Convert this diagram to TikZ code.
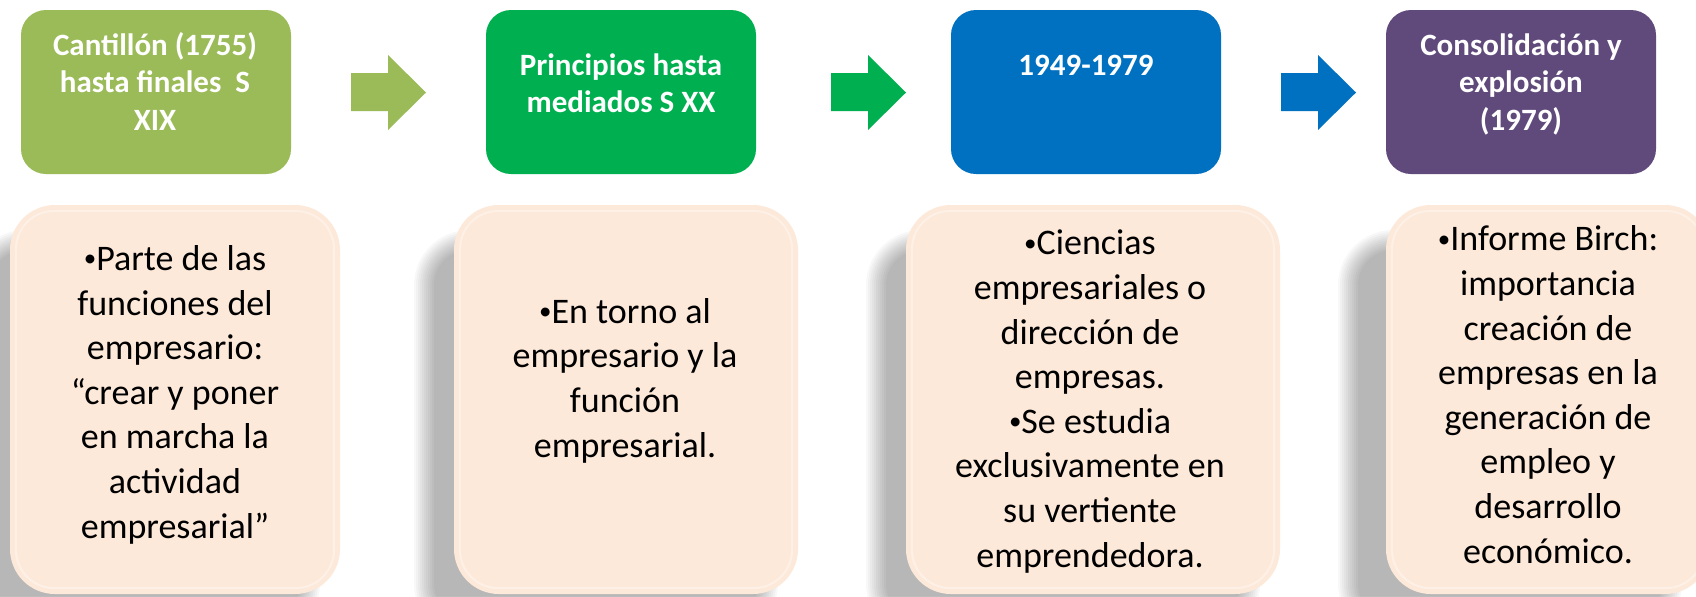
\documentclass[tikz,border=0pt]{standalone}
\usepackage{fontspec}
\setmainfont{Carlito}
\definecolor{cOlive}{HTML}{9BBB59}
\definecolor{cGreen}{HTML}{00B050}
\definecolor{cBlue}{HTML}{0070C0}
\definecolor{cPurple}{HTML}{604A7B}
\definecolor{cPeach}{HTML}{FDE9D9}
\newcommand{\mkshadow}[5]{%
  \foreach \e in {-10,-8,...,10}{%
    \fill[black, fill opacity=0.028, rounded corners={22.5pt+0.5pt*(\e)}]
      ({#1+#5-\e},{#2+35-\e}) rectangle ({#3+#5+\e},{#4+35+\e});
  }}
\newcommand{\mkbevel}[4]{%
  \draw[white, draw opacity=0.35, line width=1pt, rounded corners=19pt]
    ({#1+6},{#2+6}) rectangle ({#3-6},{#4-6});
}
\newcommand{\bul}{{\fontsize{12.5}{12.5}\selectfont\raisebox{1.9pt}{•}}}
\begin{document}
\begin{tikzpicture}[x=0.5pt,y=-0.5pt,
  hdrbox/.style={rectangle, rounded corners=12.5pt, inner sep=0pt, draw=none,
    minimum width=135pt, minimum height=82pt},
  hdrtxt/.style={text=white, align=center, inner sep=0pt, anchor=base,
    font=\bfseries\fontsize{15.5}{18.75}\selectfont},
  bodybox/.style={rectangle, rounded corners=22.5pt, inner sep=0pt, draw=none,
    fill=cPeach, minimum height=194.5pt},
  bodytxt/.style={text=black, align=center, inner sep=0pt, anchor=base,
    font=\fontsize{18}{22.3}\selectfont}]
\useasboundingbox (0,0) rectangle (1696,596);
\fill[white] (0,0) rectangle (1696,596);

% header boxes
\node[hdrbox, fill=cOlive]  (h1) at (156,92)  {};
\node[hdrbox, fill=cGreen]  (h2) at (621,92)  {};
\node[hdrbox, fill=cBlue]   (h3) at (1086,92) {};
\node[hdrbox, fill=cPurple] (h4) at (1521,92) {};

% texts anchored at the baseline of their last line
\node[hdrtxt] (h1t) at (155,130)  {Cantillón (1755)\\hasta finales~ S\\XIX};
\node[hdrtxt] (h2t) at (621,112.5) {Principios hasta\\mediados S XX};
\node[hdrtxt] (h3t) at (1086,75) {1949-1979};
\node[hdrtxt] (h4t) at (1521,130) {Consolidación y\\explosión\\(1979)};

% block arrows
\fill[cOlive] (351,73) -- (388,73) -- (388,55) -- (426,92.5) -- (388,130) -- (388,111) -- (351,111) -- cycle;
\fill[cGreen] (831,73) -- (868,73) -- (868,55) -- (906,92.5) -- (868,130) -- (868,111) -- (831,111) -- cycle;
\fill[cBlue] (1281,73) -- (1318,73) -- (1318,55) -- (1356,92.5) -- (1318,130) -- (1318,111) -- (1281,111) -- cycle;

% shadows
\mkshadow{10}{205}{340}{594}{-30}
\mkshadow{454}{205}{798}{594}{-30}
\mkshadow{906}{205}{1280}{594}{-30}
\mkshadow{1386}{205}{1710}{594}{-38}

% body boxes
\node[bodybox, minimum width=165pt] (b1) at (175,399.5)  {};
\node[bodybox, minimum width=172pt] (b2) at (626,399.5)  {};
\node[bodybox, minimum width=187pt] (b3) at (1093,399.5) {};
\node[bodybox, minimum width=162pt] (b4) at (1548,399.5) {};
\mkbevel{10}{205}{340}{594}
\mkbevel{454}{205}{798}{594}
\mkbevel{906}{205}{1280}{594}
\mkbevel{1386}{205}{1710}{594}

\node[bodytxt] (b1t) at (175,538) {\bul Parte de las\\funciones del\\empresario:\\“crear y poner\\en marcha la\\actividad\\empresarial”};
\node[bodytxt] (b2t) at (625,457) {\bul En torno al\\empresario y la\\función\\empresarial.};
\node[bodytxt] (b3t) at (1090,567) {\bul Ciencias\\empresariales o\\dirección de\\empresas.\\\bul Se estudia\\exclusivamente en\\su vertiente\\emprendedora.};
\node[bodytxt] (b4t) at (1548,563) {\bul Informe Birch:\\importancia\\creación de\\empresas en la\\generación de\\empleo y\\desarrollo\\económico.};
\end{tikzpicture}
\end{document}
